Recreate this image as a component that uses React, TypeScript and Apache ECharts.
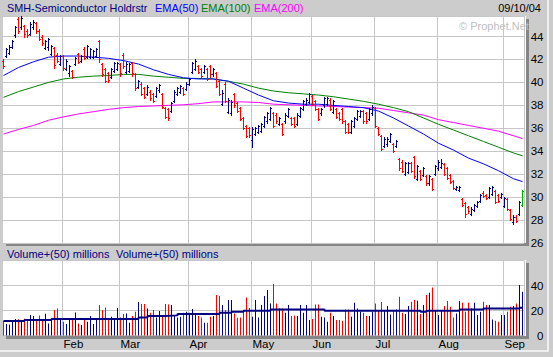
import React, { useEffect, useRef } from "react";
import * as echarts from "echarts";

// ---------- texts ----------
const chartTitle = "SMH-Semiconductor Holdrstr";
const chartDate = "09/10/04";
const legendNames = ["EMA(50)", "EMA(100)", "EMA(200)"];
const legendColors = ["#0000ff", "#008000", "#ff00ff"];
const volumeTitles = ["Volume+(50) millions", "Volume+(50) millions"];
const watermarkText = "\u00a9 Prophet.Net";

// ---------- axes ----------
const monthLabels = ["Feb", "Mar", "Apr", "May", "Jun", "Jul", "Aug", "Sep"];
const monthStartIndex = [20, 39, 62, 83, 103, 124, 145, 167];
const priceMin = 26;
const priceMax = 45.79;
const priceStep = 2;
const volMin = 0;
const volMax = 60;
const volStep = 20;

// ---------- daily bars [open, high, low, close] ----------
const ohlcJan = [
  [41.9, 42.0, 41.3, 41.4], [42.3, 43.0, 42.2, 42.9], [42.6, 43.3, 42.5, 43.1], [43.1, 43.7, 43.0, 43.6],
  [44.1, 44.9, 44.0, 44.8], [45.5, 45.7, 44.3, 44.5], [44.8, 45.8, 44.7, 45.6], [44.9, 45.0, 44.0, 44.2],
  [44.5, 44.7, 44.0, 44.1], [44.2, 45.3, 44.1, 45.1], [44.8, 45.4, 44.7, 45.3], [45.2, 45.3, 44.3, 44.5],
  [44.5, 44.7, 43.7, 43.8], [44.0, 44.1, 43.3, 43.4], [43.0, 43.7, 42.9, 43.6], [43.1, 43.9, 42.8, 43.8],
  [42.5, 43.3, 42.4, 43.2], [43.0, 43.1, 41.3, 41.5], [42.4, 42.6, 41.8, 41.9], [41.6, 42.4, 41.5, 42.3],
];
const ohlcFeb = [
  [42.3, 42.4, 41.1, 41.3], [41.2, 42.0, 41.1, 41.9], [40.8, 41.5, 40.6, 41.4], [41.0, 41.1, 40.4, 40.5],
  [41.6, 42.2, 41.5, 42.1], [42.5, 42.6, 41.7, 41.8], [41.9, 42.4, 41.8, 42.3], [42.9, 43.1, 42.0, 42.1],
  [42.2, 43.3, 42.1, 43.2], [42.2, 43.0, 42.1, 42.9], [42.2, 42.8, 42.1, 42.7], [42.3, 43.0, 42.2, 42.9],
  [43.6, 43.7, 41.8, 42.0], [41.6, 41.7, 40.6, 40.7], [41.2, 41.3, 40.0, 40.1], [40.8, 40.9, 40.0, 40.2],
  [40.5, 41.3, 40.4, 41.2], [41.0, 41.8, 40.9, 41.7], [41.2, 41.8, 41.1, 41.7],
];
const ohlcMar = [
  [41.6, 41.7, 40.6, 40.8], [42.4, 42.6, 41.3, 41.4], [40.9, 41.8, 40.8, 41.6], [41.0, 41.7, 40.9, 41.6],
  [41.7, 41.8, 40.6, 40.8], [40.7, 40.8, 39.3, 39.5], [39.6, 40.2, 39.5, 40.1], [39.9, 40.0, 38.9, 39.0],
  [39.5, 39.6, 38.6, 38.7], [39.0, 39.8, 38.9, 39.6], [39.2, 39.3, 38.5, 38.6], [39.0, 39.1, 38.3, 38.4],
  [38.8, 39.6, 38.7, 39.5], [39.3, 39.9, 39.2, 39.8], [39.0, 39.1, 37.8, 37.9], [37.8, 37.9, 36.9, 37.0],
  [37.7, 37.8, 36.7, 36.9], [37.5, 38.3, 37.4, 38.2], [38.4, 39.3, 38.3, 39.2], [39.0, 39.6, 38.9, 39.5],
  [39.2, 39.8, 39.1, 39.7], [39.5, 39.6, 38.9, 39.0], [39.4, 40.0, 39.3, 39.9],
];
const ohlcApr = [
  [39.9, 40.4, 39.8, 40.3], [40.9, 41.8, 40.8, 41.7], [41.2, 42.0, 41.1, 41.9], [41.4, 41.5, 40.8, 40.9],
  [41.2, 41.3, 40.5, 40.6], [40.9, 41.5, 40.8, 41.4], [41.2, 41.3, 40.2, 40.3], [41.4, 41.5, 40.5, 40.7],
  [40.7, 41.3, 40.6, 41.2], [40.8, 40.9, 39.6, 39.7], [40.1, 40.2, 38.9, 39.0], [38.1, 39.3, 38.0, 39.1],
  [39.9, 40.0, 38.3, 38.4], [37.4, 38.6, 37.3, 38.5], [37.3, 38.5, 37.2, 38.3], [39.0, 39.1, 37.9, 38.0],
  [38.2, 38.3, 37.4, 37.5], [37.8, 37.9, 36.7, 36.8], [36.9, 37.0, 35.9, 36.0], [36.2, 36.3, 35.2, 35.3],
  [36.0, 36.1, 35.2, 35.4],
];
const ohlcMay = [
  [35.0, 36.1, 34.4, 35.9], [35.5, 36.1, 35.4, 36.0], [35.7, 36.3, 35.6, 36.2], [35.8, 36.5, 35.7, 36.4],
  [36.2, 37.1, 36.1, 37.0], [36.6, 37.4, 36.5, 37.3], [36.8, 37.9, 36.7, 37.8], [37.3, 37.4, 36.1, 36.2],
  [37.2, 37.3, 36.5, 36.6], [36.4, 37.0, 36.3, 36.9], [36.4, 36.5, 35.4, 35.5], [36.6, 37.3, 36.5, 37.2],
  [37.1, 37.8, 37.0, 37.7], [36.9, 37.0, 36.3, 36.4], [36.9, 37.0, 36.1, 36.2], [36.4, 37.3, 36.3, 37.2],
  [37.1, 37.9, 37.0, 37.8], [37.7, 38.5, 37.6, 38.4], [38.1, 38.6, 38.0, 38.5], [38.3, 39.1, 38.2, 39.0],
];
const ohlcJun = [
  [38.8, 38.9, 38.0, 38.1], [38.4, 38.5, 37.6, 37.7], [37.7, 37.8, 36.7, 36.8], [37.3, 37.8, 37.2, 37.7],
  [38.0, 38.7, 37.9, 38.6], [38.1, 38.7, 38.0, 38.6], [38.5, 38.6, 37.6, 37.7], [37.4, 38.5, 37.3, 38.4],
  [37.7, 37.8, 36.9, 37.0], [37.3, 37.4, 36.7, 36.8], [37.7, 37.8, 36.5, 36.6], [36.6, 36.7, 35.6, 35.7],
  [36.4, 36.5, 35.6, 35.7], [35.7, 36.7, 35.6, 36.6], [36.2, 37.0, 36.1, 36.9], [36.8, 37.6, 36.7, 37.5],
  [37.1, 37.6, 37.0, 37.5], [37.5, 37.6, 36.5, 36.6], [37.3, 37.4, 36.5, 36.6], [36.8, 37.8, 36.7, 37.7],
  [37.3, 38.0, 37.2, 37.9],
];
const ohlcJul = [
  [37.8, 37.9, 36.1, 36.2], [36.0, 36.1, 35.4, 35.5], [35.3, 35.4, 34.1, 34.2], [34.5, 35.2, 34.4, 35.1],
  [34.6, 35.2, 34.5, 35.1], [34.9, 35.6, 34.8, 35.5], [34.6, 34.7, 33.9, 34.0], [34.5, 35.0, 34.4, 34.9],
  [33.3, 33.4, 32.4, 32.5], [33.1, 33.2, 32.2, 32.3], [32.0, 33.1, 31.9, 33.0], [32.2, 33.1, 32.1, 33.0],
  [33.0, 33.1, 32.2, 32.3], [33.5, 33.6, 31.7, 31.8], [31.6, 32.8, 31.5, 32.7], [32.3, 32.4, 31.5, 31.6],
  [31.9, 32.6, 31.8, 32.5], [31.8, 31.9, 31.1, 31.2], [31.2, 31.9, 31.1, 31.8], [31.6, 31.7, 30.6, 30.7],
  [32.0, 32.8, 31.9, 32.7],
];
const ohlcAug = [
  [32.5, 33.2, 32.4, 33.1], [32.6, 33.3, 32.5, 33.0], [32.9, 33.0, 31.9, 32.0], [32.5, 32.6, 31.6, 31.7],
  [31.9, 32.0, 31.2, 31.3], [31.4, 31.5, 30.7, 30.8], [30.7, 31.0, 30.6, 30.9], [30.6, 31.0, 30.5, 30.9],
  [29.8, 29.9, 29.2, 29.3], [29.5, 29.6, 28.3, 28.5], [29.1, 29.2, 28.6, 28.8], [28.5, 29.1, 28.4, 29.0],
  [28.9, 29.4, 28.8, 29.3], [29.2, 29.7, 29.1, 29.6], [29.7, 30.3, 29.6, 30.2], [30.4, 30.5, 30.0, 30.1],
  [30.2, 30.3, 29.8, 29.9], [30.0, 30.9, 29.9, 30.8], [30.3, 31.0, 30.2, 30.9], [30.5, 30.6, 29.5, 29.6],
  [30.2, 30.3, 29.6, 29.7], [30.0, 30.4, 29.9, 30.3],
];
const ohlcSep = [
  [29.2, 30.0, 29.1, 29.9], [29.8, 29.9, 28.9, 29.0], [28.9, 29.0, 28.0, 28.1], [27.8, 28.4, 27.7, 28.3],
  [28.3, 28.4, 27.8, 27.9], [28.5, 29.7, 28.4, 29.6], [29.3, 30.6, 29.2, 30.5],
];

// ---------- daily volume (millions) ----------
const volJan = [11.6, 9.3, 8.9, 10.9, 13.2, 13.0, 12.4, 13.5, 12.9, 16.4, 15.6, 11.9, 16.1, 11.9, 17.4, 9.7, 12.4, 20.4, 21.7, 12.4];
const volFeb = [11.1, 9.2, 13.7, 12.4, 18.5, 9.7, 8.4, 13.7, 11.1, 15.6, 9.2, 12.4, 24.4, 20.4, 22.5, 13.7, 15.1, 13.7, 22.0];
const volMar = [14.5, 17.2, 17.7, 10.3, 15.6, 19.1, 26.8, 25.2, 25.2, 21.7, 18.3, 20.4, 14.5, 19.6, 15.6, 25.2, 24.9, 24.4, 16.4, 14.5, 15.1, 18.3, 19.1];
const volApr = [18.3, 21.2, 17.2, 15.6, 14.5, 10.3, 10.3, 15.1, 15.6, 32.4, 31.6, 24.4, 20.4, 28.4, 28.4, 17.7, 14.3, 14.5, 19.1, 30.5, 22.0];
const volMay = [15.1, 28.4, 14.5, 24.4, 31.6, 36.4, 25.7, 41.2, 25.7, 21.7, 21.7, 18.3, 24.4, 15.6, 16.1, 15.6, 24.4, 18.3, 24.4, 12.4];
const volJun = [13.2, 24.8, 24.8, 15.1, 14.5, 11.1, 18.3, 15.6, 12.4, 12.4, 11.9, 20.9, 20.9, 15.1, 26.3, 21.7, 19.1, 18.3, 15.6, 15.6, 19.1];
const volJul = [25.7, 20.4, 26.9, 20.4, 23.6, 16.9, 19.9, 20.9, 31.1, 18.3, 17.2, 23.6, 27.1, 28.4, 27.9, 17.2, 24.4, 32.4, 34.3, 38.5, 19.6];
const volAug = [16.4, 20.4, 23.6, 27.6, 23.1, 14.5, 17.7, 27.6, 26.3, 19.1, 26.3, 21.7, 26.3, 16.4, 19.1, 27.1, 24.4, 24.4, 12.9, 11.9, 11.1, 16.4];
const volSep = [16.4, 19.1, 23.1, 23.6, 25.7, 40.4, 35.1];

// ---------- moving averages [dayIndex, value] ----------
const ema50 = [
  [0, 40.6], [5, 41.3], [10, 41.8], [15, 42.2], [20, 42.3], [25, 42.3], [30, 42.2], [35, 42.1], [40, 41.9],
  [45, 41.6], [50, 41.1], [55, 40.7], [60, 40.4], [65, 40.3], [70, 40.3], [75, 40.1], [80, 39.5], [85, 38.9],
  [90, 38.4], [95, 38.2], [100, 38.1], [105, 38.1], [110, 38.0], [115, 37.9], [120, 37.8], [125, 37.5],
  [130, 36.9], [135, 36.2], [140, 35.5], [145, 34.7], [150, 34.1], [155, 33.4], [160, 32.9], [165, 32.3],
  [170, 31.6], [173, 31.35],
];
const ema100 = [
  [0, 38.7], [5, 39.2], [10, 39.6], [15, 40.0], [20, 40.3], [25, 40.45], [30, 40.55], [35, 40.6], [40, 40.7],
  [45, 40.7], [50, 40.55], [55, 40.45], [60, 40.35], [65, 40.35], [70, 40.3], [75, 40.1], [80, 39.85],
  [85, 39.5], [90, 39.25], [95, 39.1], [100, 39.0], [105, 38.9], [110, 38.75], [115, 38.55], [120, 38.35],
  [125, 38.1], [130, 37.8], [135, 37.45], [140, 36.9], [145, 36.35], [150, 35.85], [155, 35.35], [160, 34.85],
  [165, 34.35], [170, 33.85], [173, 33.6],
];
const ema200 = [
  [0, 35.5], [5, 35.9], [10, 36.25], [15, 36.7], [20, 37.0], [25, 37.25], [30, 37.45], [35, 37.65], [40, 37.8],
  [45, 37.9], [50, 37.95], [55, 38.0], [60, 38.05], [65, 38.15], [70, 38.3], [75, 38.3], [80, 38.3], [85, 38.25],
  [90, 38.1], [95, 38.05], [100, 38.0], [105, 37.95], [110, 37.9], [115, 37.85], [120, 37.8], [125, 37.75],
  [130, 37.55], [135, 37.35], [140, 37.15], [145, 36.75], [150, 36.5], [155, 36.25], [160, 36.0], [165, 35.75],
  [170, 35.35], [173, 35.1],
];
const volAvg = [
  [0, 11.6], [7, 12.4], [16, 13.2], [45, 14.5], [48, 15.6], [54, 16.1], [58, 17.2], [72, 18.3], [76, 19.1],
  [80, 19.9], [89, 20.9], [107, 19.9], [139, 19.1], [141, 19.9], [152, 20.9], [160, 21.7], [172, 22.3], [173, 22.3],
];

const W = 553;
const H = 357;

export default function App() {
  const ref = useRef<HTMLDivElement>(null);

  useEffect(() => {
    const el = ref.current;
    if (!el) return;
    const chart = echarts.init(el, null, { renderer: "svg" });

    const ohlc = [...ohlcJan, ...ohlcFeb, ...ohlcMar, ...ohlcApr, ...ohlcMay, ...ohlcJun, ...ohlcJul, ...ohlcAug, ...ohlcSep];
    const volumes = [...volJan, ...volFeb, ...volMar, ...volApr, ...volMay, ...volJun, ...volJul, ...volAug, ...volSep];
    const n = ohlc.length;
    const cats = ohlc.map((_, i) => String(i));

    const upColor = "#000080";
    const downColor = "#ff0000";
    const lastColor = "#00b000";
    const navy = "#000080";
    const gridColor = "#c6c6c6";
    const shadow = "#868686";
    const font = '"Liberation Sans", Arial, sans-serif';
    const barColor = (i: number) => (ohlc[i][3] >= ohlc[i][0] ? upColor : downColor);
    const isMonthStart = (idx: number) => monthStartIndex.indexOf(idx) >= 0;

    const text = (x: number, y: number, t: string, fill: string, align = "left", size = 11) => ({
      type: "text",
      x,
      y,
      z: 50,
      silent: true,
      style: {
        text: t,
        fill,
        font: `${size}px ${font}`,
        textAlign: align,
        align,
        textVerticalAlign: "middle",
        verticalAlign: "middle",
      },
    });
    const rect = (x: number, y: number, w: number, h: number, fill: string, z: number) => ({
      type: "rect",
      z,
      silent: true,
      shape: { x, y, width: w, height: h },
      style: { fill },
    });

    const option: any = {
      animation: false,
      backgroundColor: "#cccccc",
      grid: [
        { left: 2, top: 16, width: 522, height: 227, show: false, outerBoundsMode: "none" },
        { left: 2, top: 260.5, width: 522, height: 75, show: false, outerBoundsMode: "none" },
      ],
      xAxis: [
        {
          type: "category",
          gridIndex: 0,
          data: cats,
          boundaryGap: true,
          axisLine: { show: false },
          axisTick: { show: false },
          axisLabel: { show: false },
          splitLine: { show: true, interval: (idx: number) => isMonthStart(idx), lineStyle: { color: gridColor, width: 1 } },
        },
        {
          type: "category",
          gridIndex: 1,
          data: cats,
          boundaryGap: true,
          axisLine: { show: false },
          axisTick: { show: false },
          axisLabel: {
            show: true,
            interval: (idx: number) => isMonthStart(idx),
            formatter: (_v: string, idx: number) => {
              const k = monthStartIndex.indexOf(idx);
              return k >= 0 ? monthLabels[k] : "";
            },
            color: "#000",
            fontSize: 11.5,
            fontFamily: font,
            align: "left",
            margin: 2.5,
          },
          splitLine: { show: true, interval: (idx: number) => isMonthStart(idx), lineStyle: { color: gridColor, width: 1 } },
        },
      ],
      yAxis: [
        {
          type: "value",
          gridIndex: 0,
          position: "right",
          min: priceMin,
          max: priceMax,
          interval: priceStep,
          axisLine: { show: false },
          axisTick: { show: false },
          axisLabel: { color: "#000", fontSize: 11.5, fontFamily: font, align: "right", margin: 19.5, showMaxLabel: false },
          splitLine: { show: true, lineStyle: { color: gridColor, width: 1 } },
        },
        {
          type: "value",
          gridIndex: 1,
          position: "right",
          min: volMin,
          max: volMax,
          interval: volStep,
          axisLine: { show: false },
          axisTick: { show: false },
          axisLabel: { color: "#000", fontSize: 11.5, fontFamily: font, align: "right", margin: 19.5, showMaxLabel: false },
          splitLine: { show: true, lineStyle: { color: gridColor, width: 1 } },
        },
      ],
      series: [
        {
          type: "line",
          xAxisIndex: 0,
          yAxisIndex: 0,
          data: ema200,
          showSymbol: false,
          symbol: "none",
          z: 2,
          lineStyle: { color: legendColors[2], width: 1 },
        },
        {
          type: "line",
          xAxisIndex: 0,
          yAxisIndex: 0,
          data: ema100,
          showSymbol: false,
          symbol: "none",
          z: 2,
          lineStyle: { color: legendColors[1], width: 1 },
        },
        {
          type: "line",
          xAxisIndex: 0,
          yAxisIndex: 0,
          data: ema50,
          showSymbol: false,
          symbol: "none",
          z: 2,
          lineStyle: { color: legendColors[0], width: 1 },
        },
        {
          type: "custom",
          xAxisIndex: 0,
          yAxisIndex: 0,
          z: 3,
          data: ohlc.map((r, i) => [i, r[0], r[1], r[2], r[3]]),
          encode: { x: 0, y: [1, 2, 3, 4] },
          renderItem: (_params: any, api: any) => {
            const i = api.value(0);
            const o = api.value(1);
            const h = api.value(2);
            const l = api.value(3);
            const c = api.value(4);
            const top = api.coord([i, h]);
            const bot = api.coord([i, l]);
            const yo = Math.round(api.coord([i, o])[1]);
            const yc = Math.round(api.coord([i, c])[1]);
            const x = Math.floor(top[0]);
            const y1 = Math.round(top[1]);
            const y2 = Math.round(bot[1]);
            const color = i === n - 1 ? lastColor : c >= o ? upColor : downColor;
            return {
              type: "group",
              children: [
                { type: "rect", shape: { x, y: y1, width: 1, height: Math.max(1, y2 - y1 + 1) }, style: { fill: color } },
                { type: "rect", shape: { x: x - 1, y: yo, width: 1, height: 1 }, style: { fill: color } },
                { type: "rect", shape: { x: x + 1, y: yc, width: 1, height: 1 }, style: { fill: color } },
              ],
            };
          },
        },
        {
          type: "bar",
          xAxisIndex: 1,
          yAxisIndex: 1,
          barWidth: 1,
          z: 2,
          data: volumes.map((v, i) => ({ value: v, itemStyle: { color: barColor(i) } })),
        },
        {
          type: "line",
          xAxisIndex: 1,
          yAxisIndex: 1,
          step: "end",
          data: volAvg,
          showSymbol: false,
          symbol: "none",
          z: 3,
          lineStyle: { color: navy, width: 2 },
        },
      ],
      graphic: {
        elements: [
          // panel frame
          rect(547, 0, 2, 351, "#eeeeee", -20),
          rect(0, 350, 549, 2, "#eeeeee", -20),
          // price panel
          rect(526, 19, 3, 227, shadow, -20),
          rect(6, 243, 523, 3, shadow, -20),
          rect(3, 16, 523, 227, "#ffffff", -19),
          // volume panel
          rect(526, 263, 3, 76, shadow, -20),
          rect(6, 336, 523, 3, shadow, -20),
          rect(3, 260, 523, 76, "#ffffff", -19),
          // header texts
          text(7, 8, chartTitle, navy, "left", 10.8),
          text(155, 8, legendNames[0], legendColors[0]),
          text(201, 8, legendNames[1], legendColors[1]),
          text(254, 8, legendNames[2], legendColors[2]),
          text(541, 8, chartDate, "#000000", "right"),
          text(459, 26, watermarkText, "#c0c0c0"),
          text(7, 254, volumeTitles[0], navy),
          text(116, 254, volumeTitles[1], navy),
        ],
      },
    };

    chart.setOption(option);
    return () => chart.dispose();
  }, []);

  return <div ref={ref} style={{ position: "fixed", left: 0, top: 0, width: W, height: H }} />;
}
